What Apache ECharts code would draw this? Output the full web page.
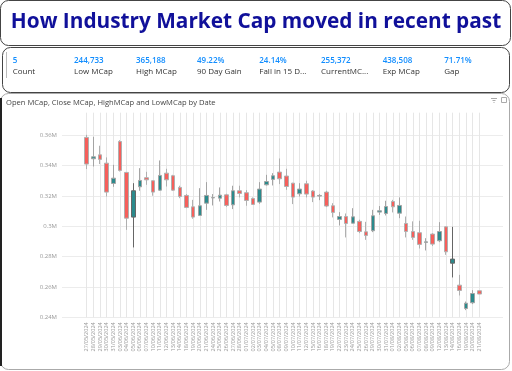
<!DOCTYPE html>
<html>
<head>
<meta charset="utf-8">
<script src="https://cdn.jsdelivr.net/npm/echarts@6/dist/echarts.min.js"></script>
<style>
html,body{margin:0;padding:0;background:#fff;}
#c{width:512px;height:371px;}
</style>
</head>
<body>
<div id="c"></div>
<script>
const dates = ["27/05/2024","28/05/2024","29/05/2024","30/05/2024","31/05/2024","03/06/2024","04/06/2024","05/06/2024","06/06/2024","07/06/2024","10/06/2024","11/06/2024","12/06/2024","13/06/2024","14/06/2024","18/06/2024","19/06/2024","20/06/2024","21/06/2024","24/06/2024","25/06/2024","26/06/2024","27/06/2024","28/06/2024","01/07/2024","02/07/2024","03/07/2024","04/07/2024","05/07/2024","08/07/2024","09/07/2024","10/07/2024","11/07/2024","12/07/2024","15/07/2024","16/07/2024","18/07/2024","19/07/2024","22/07/2024","23/07/2024","24/07/2024","25/07/2024","26/07/2024","29/07/2024","30/07/2024","31/07/2024","01/08/2024","02/08/2024","05/08/2024","06/08/2024","07/08/2024","08/08/2024","09/08/2024","12/08/2024","13/08/2024","14/08/2024","16/08/2024","19/08/2024","20/08/2024","21/08/2024"];
const openMCap  = [358700,344600,347200,341700,328300,356000,335600,306100,326100,332100,330100,323900,335100,333400,325700,320400,312900,307200,315300,318800,318600,320800,314200,323500,322200,318400,316000,327400,331000,335800,333200,328500,321500,328100,323300,320000,322600,313600,304600,306500,302100,303300,296400,297100,309400,308500,316400,308700,301900,296600,295800,289400,294900,290500,299700,275700,261200,245800,249600,257500];
const closeMCap = [341100,345900,344200,322600,331800,336900,305400,323500,330300,330700,322600,333600,330700,323900,319700,312500,306100,313600,320400,319000,320600,313800,323500,321700,317100,314500,324600,329600,333400,331400,326300,319300,324600,321300,319300,320400,313400,309200,306500,301900,306300,296600,294000,307000,310300,313100,312900,313800,296600,292700,288100,289800,288300,296600,283200,278400,257700,249300,255700,255372];
const lowMCap   = [337800,339500,341100,319700,326100,336200,297700,286100,323500,327400,320200,323500,326300,323500,318600,312000,305000,306800,310900,313800,316400,312900,311400,319100,313600,314200,314900,327000,327000,327900,324100,314700,319700,319100,316000,317300,312700,305900,300600,292700,302000,295500,291100,296200,307600,307200,309200,305400,292700,291100,285400,284100,287000,289600,281200,266300,254400,244733,248700,255300];
const highMCap  = [360400,359100,353200,345500,340600,356900,335800,328500,338400,336000,330300,343500,338000,334000,326800,321300,317500,325200,329200,321300,325700,321500,326800,326800,323900,319100,329200,334000,335100,344800,338000,328700,328500,330100,323900,321300,323500,315300,309400,308500,312000,304400,303000,310900,313400,316900,317500,319100,306500,303300,303700,292200,295500,302800,299900,299700,268000,250400,257900,257700];
const yTicks = [240000,260000,280000,300000,320000,340000,360000];
const kpiValues = ["5","244,733","365,188","49.22%","24.14%","255,372","438,508","71.71%"];
const kpiLabels = ["Count","Low MCap","High MCap","90 Day Gain","Fall in 15 D...","CurrentMC...","Exp MCap","Gap"];
const titleText = "How Industry Market Cap moved in recent past";
const chartTitle = "Open MCap, Close MCap, HighMCap and LowMCap by Date";

const darkWick = [7, 55];
const candleData = dates.map((d, i) => {
  const item = { value: [openMCap[i], closeMCap[i], lowMCap[i], highMCap[i]] };
  if (darkWick.indexOf(i) >= 0) item.itemStyle = { borderColor: '#666', borderColor0: '#666' };
  return item;
});

const yMin = yTicks[0], yMax = 375000, yStep = yTicks[1] - yTicks[0];

const graphics = [];
graphics.push({type:'rect', shape:{x:0.5,y:0.5,width:510,height:45,r:8}, style:{fill:'none',stroke:'#444',lineWidth:1}});
graphics.push({type:'rect', shape:{x:2.5,y:47.5,width:507,height:45,r:8}, style:{fill:'none',stroke:'#444',lineWidth:1}});
graphics.push({type:'rect', shape:{x:0.5,y:93.5,width:509,height:276,r:8}, style:{fill:'none',stroke:'#aaa',lineWidth:1}});
graphics.push({type:'line', shape:{x1:1,y1:98,x2:1,y2:366}, style:{stroke:'#222',lineWidth:2}});
graphics.push({type:'text', style:{text:titleText, x:256, y:22.5, font:'bold 20.8px "Open Sans"', fill:'#10109a', textAlign:'center', textVerticalAlign:'middle', align:'center', verticalAlign:'middle'}});
graphics.push({type:'line', shape:{x1:6.5,y1:52,x2:6.5,y2:78}, style:{stroke:'#bbb',lineWidth:1}});
const kpiX = [12.7,74,136,197,259.3,321,382.7,444.3];
kpiValues.forEach((v, i) => {
  graphics.push({type:'text', style:{text:v, x:kpiX[i], y:61, font:'600 8px "Open Sans"', fill:'#118DFF', textAlign:'left', textVerticalAlign:'middle', align:'left', verticalAlign:'middle'}});
  graphics.push({type:'text', style:{text:kpiLabels[i], x:kpiX[i], y:72, font:'8px "Open Sans"', fill:'#333', textAlign:'left', textVerticalAlign:'middle', align:'left', verticalAlign:'middle'}});
});
graphics.push({type:'text', style:{text:chartTitle, x:6, y:103, font:'7.6px "Open Sans"', fill:'#444', textAlign:'left', textVerticalAlign:'middle', align:'left', verticalAlign:'middle'}});
graphics.push({type:'line', shape:{x1:491,y1:98.5,x2:497,y2:98.5}, style:{stroke:'#aaa',lineWidth:1}});
graphics.push({type:'line', shape:{x1:492.5,y1:100.5,x2:495.5,y2:100.5}, style:{stroke:'#aaa',lineWidth:1}});
graphics.push({type:'line', shape:{x1:493.5,y1:102.5,x2:494.5,y2:102.5}, style:{stroke:'#aaa',lineWidth:1}});
graphics.push({type:'rect', shape:{x:501.5,y:97.5,width:5,height:5}, style:{fill:'none',stroke:'#aaa',lineWidth:1}});

const gridColors = yTicks.map(() => '#ececec').concat(['rgba(0,0,0,0)']);

const option = {
  animation: false,
  backgroundColor: '#fff',
  graphic: graphics,
  grid: [
    {left: 62, right: 9, top: 112.7, bottom: 53.7},
    {left: 86.7, right: 32.7, top: 112.7, bottom: 53.7}
  ],
  xAxis: [
    {type: 'value', gridIndex: 0, show: false, min: 0, max: 1},
    {type: 'category', gridIndex: 1, data: dates, boundaryGap: false,
      axisLine: {show: false}, axisTick: {show: false},
      axisLabel: {rotate: 90, interval: 0, fontSize: 5.5, color: '#999', margin: 5, fontFamily: 'Open Sans'},
      splitLine: {show: true, interval: 0, lineStyle: {color: '#e6e6e6', width: 1}}}
  ],
  yAxis: [
    {type: 'value', gridIndex: 0, min: yMin, max: yMax, interval: yStep,
      axisLine: {show: false}, axisTick: {show: false},
      axisLabel: {fontSize: 6, color: '#999', margin: 5, fontFamily: 'Open Sans',
        formatter: v => (v % yStep === 0 ? parseFloat((v / 1e6).toFixed(2)) + 'M' : '')},
      splitLine: {show: true, lineStyle: {color: gridColors, width: 1}}},
    {type: 'value', gridIndex: 1, min: yMin, max: yMax, interval: yStep, show: false, splitLine: {show: false}}
  ],
  series: [{
    type: 'candlestick', xAxisIndex: 1, yAxisIndex: 1,
    data: candleData,
    barWidth: 4,
    itemStyle: {color: '#2b8a8c', color0: '#f65f5b', borderColor: '#a4a4a4', borderColor0: '#b0b0b0', borderColorDoji: '#777', borderWidth: 1}
  }]
};
const chart = echarts.init(document.getElementById('c'), null, {renderer: 'canvas'});
chart.setOption(option);
</script>
</body>
</html>
